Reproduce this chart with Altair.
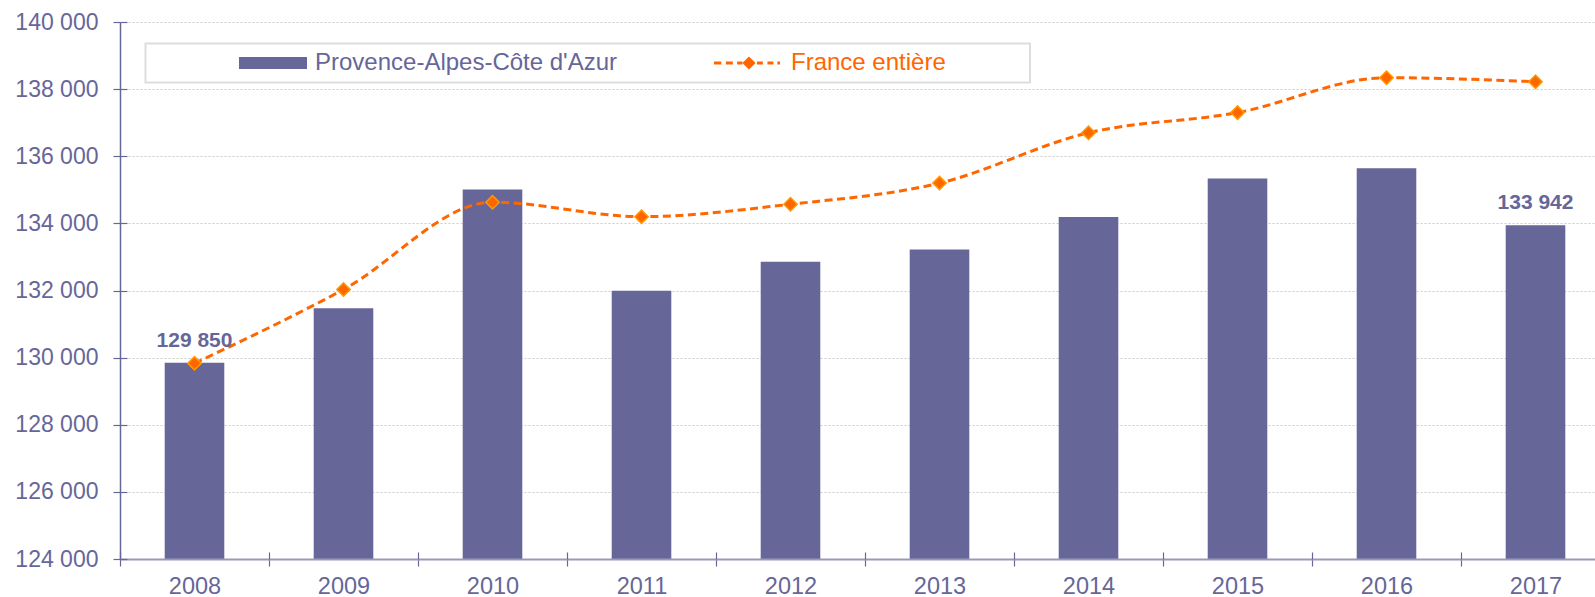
import altair as alt
import pandas as pd

years = ["2008", "2009", "2010", "2011", "2012", "2013", "2014", "2015", "2016", "2017"]
paca = [129850, 131470, 135010, 131990, 132860, 133220, 134190, 135340, 135640, 133942]
france = [129830, 132030, 134630, 134200, 134570, 135200, 136700, 137300, 138340, 138220]
label_years = ["2008", "2017"]
y_ticks = [124000, 126000, 128000, 130000, 132000, 134000, 136000, 138000, 140000]
series_bar = "Provence-Alpes-Côte d'Azur"
series_line = "France entière"

PURPLE = "#666699"
ORANGE = "#FF6600"
FONT = "Liberation Sans"

bars_df = pd.DataFrame({"year": years, "pac": paca, "series": series_bar})
line_df = pd.DataFrame({"year": years, "fr": france, "series2": series_line})

xscale = alt.Scale(domain=years, paddingInner=0, paddingOuter=0, range=[0, 1490])
yscale = alt.Scale(domain=[124000, 140000], nice=False, zero=False)
label_expr = "replace(format(datum.value, ','), ',', ' ')"

main_x_axis = alt.Axis(
    orient="bottom", title=None, tickBand="extent", labelAngle=0,
    labelFont=FONT, labelFontSize=23.5, labelColor=PURPLE, labelPadding=8,
    tickColor=PURPLE, tickSize=7, tickWidth=1.2,
    domainColor="#9999BB", domainWidth=2, grid=False, zindex=1,
)
main_y_axis = alt.Axis(
    orient="left", title=None, values=y_ticks, labelExpr=label_expr,
    labelFont=FONT, labelFontSize=23, labelColor=PURPLE, labelPadding=15,
    tickColor=PURPLE, tickSize=7, tickWidth=1.2,
    domainColor=PURPLE, domainWidth=1.5,
    grid=True, gridColor="#CCCCCC", gridDash=[2, 2], gridWidth=1,
)
inner_x_axis = alt.Axis(
    orient="bottom", title=None, tickBand="extent", labels=False, domain=False,
    grid=False, tickColor=PURPLE, tickSize=7, tickWidth=1.2, offset=-7, zindex=1,
)
inner_y_axis = alt.Axis(
    orient="left", title=None, values=y_ticks, labels=False, domain=False,
    grid=False, tickColor=PURPLE, tickSize=7, tickWidth=1.2, offset=-7, zindex=1,
)

bar_legend = alt.Legend(
    orient="none", legendX=119, legendY=7, direction="horizontal", title=None,
    symbolType="M-1,-0.18L1,-0.18L1,0.18L-1,0.18Z", symbolSize=4624,
    symbolStrokeWidth=0, labelFont=FONT, labelFontSize=24, labelColor=PURPLE,
    labelOffset=8, padding=0, labelLimit=0,
)
line_path = (
    "M-1,-0.045H-0.78V0.045H-1Z M-0.64,-0.045H-0.43V0.045H-0.64Z M-0.3,-0.045H-0.14V0.045H-0.3Z "
    "M0.06,-0.2L0.26,0L0.06,0.2L-0.14,0Z "
    "M0.3,-0.045H0.48V0.045H0.3Z M0.62,-0.045H0.8V0.045H0.62Z M0.92,-0.045H1V0.045H0.92Z"
)
line_legend = alt.Legend(
    orient="none", legendX=594, legendY=8, direction="horizontal", title=None,
    symbolType=line_path, symbolSize=4356, symbolFillColor=ORANGE, symbolStrokeWidth=0,
    labelFont=FONT, labelFontSize=24, labelColor=ORANGE, labelOffset=11, padding=0,
    labelLimit=0,
)

bars = alt.Chart(bars_df).mark_bar(color=PURPLE, width=alt.RelativeBandSize(0.4)).encode(
    x=alt.X("year:N", scale=xscale, axis=main_x_axis, sort=years),
    y=alt.Y("pac:Q", scale=yscale, axis=main_y_axis),
    y2=alt.datum(124000),
    color=alt.Color("series:N", scale=alt.Scale(domain=[series_bar], range=[PURPLE]), legend=bar_legend),
)

line = alt.Chart(line_df).mark_line(
    strokeDash=[8, 4.5], strokeWidth=3, interpolate="monotone"
).encode(
    x=alt.X("year:N", scale=xscale, axis=inner_x_axis, sort=years),
    y=alt.Y("fr:Q", scale=yscale, axis=inner_y_axis),
    stroke=alt.Stroke("series2:N", scale=alt.Scale(domain=[series_line], range=[ORANGE]), legend=line_legend),
)

points = alt.Chart(line_df).mark_point(
    shape="diamond", filled=True, size=180, fill=ORANGE, stroke="#FF9900",
    strokeWidth=1.5, opacity=1,
).encode(
    x=alt.X("year:N", scale=xscale, axis=None, sort=years),
    y=alt.Y("fr:Q", scale=yscale, axis=None),
)

labels = alt.Chart(bars_df).transform_filter(
    alt.FieldOneOfPredicate(field="year", oneOf=label_years)
).transform_calculate(
    lbl="replace(format(datum.pac, ','), ',', ' ')"
).mark_text(
    font=FONT, fontSize=21, fontWeight="bold", color=PURPLE, baseline="alphabetic", dy=-16,
).encode(
    x=alt.X("year:N", scale=xscale, axis=None, sort=years),
    y=alt.Y("pac:Q", scale=yscale, axis=None),
    text="lbl:N",
)

legend_box = alt.Chart(alt.Data(values=[{}])).mark_rect(
    fill="white", stroke="#DDDDDD", strokeWidth=2,
).encode(
    x=alt.value(25.5), x2=alt.value(910), y=alt.value(21.5), y2=alt.value(60.5),
)

chart = alt.layer(bars, line, points, labels, legend_box).resolve_axis(
    x="independent", y="independent"
).resolve_scale(x="shared", y="shared").properties(
    width=1475, height=537,
    padding={"left": 120, "top": 22, "right": 0, "bottom": 38},
    autosize=alt.AutoSizeParams(type="none"),
    background="white",
).configure_view(stroke=None)

chart.save("out.html", embed_options={"renderer": "svg", "actions": False})
